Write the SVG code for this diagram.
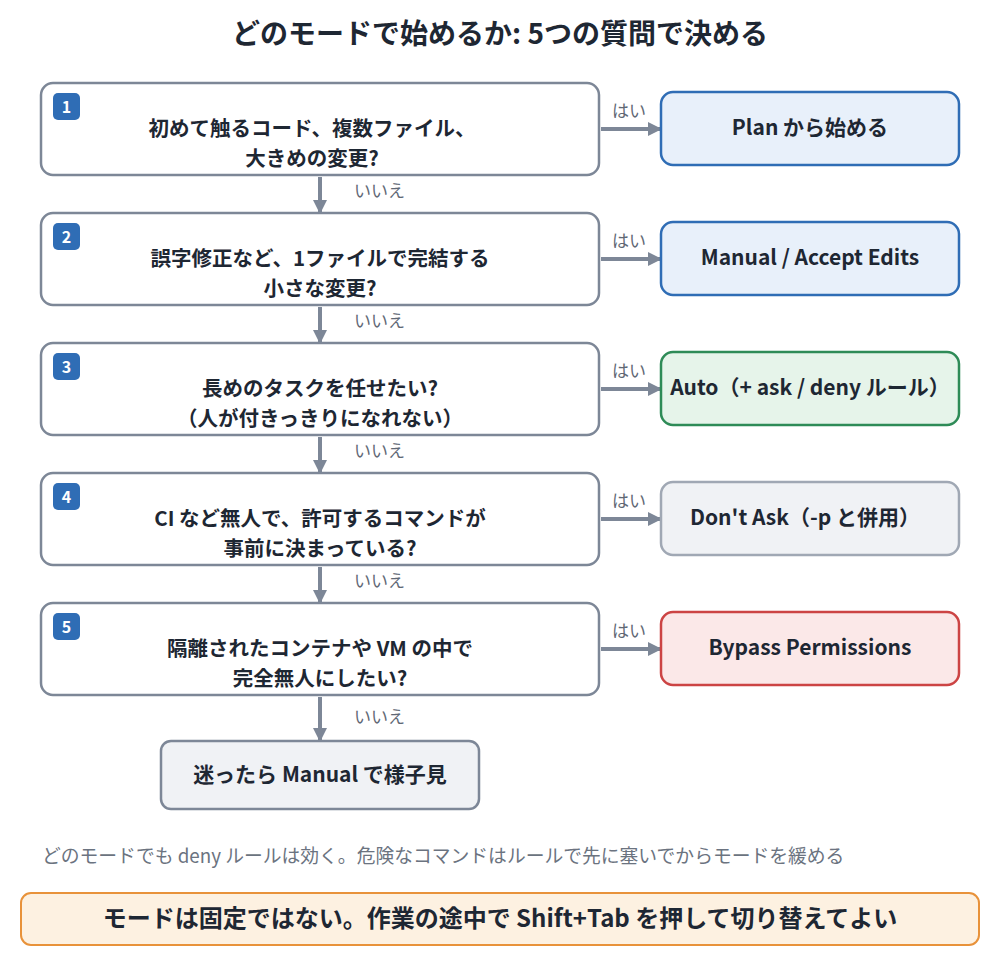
<svg xmlns="http://www.w3.org/2000/svg" width="1000" height="960" viewBox="0 0 1000 960">
<defs>
<marker id="ah" markerWidth="14" markerHeight="14" refX="13" refY="7" orient="auto" markerUnits="userSpaceOnUse" viewBox="0 0 14 14"><path d="M0,0 L14,7 L0,14 z" fill="#7d8797"/></marker>
<style>
text{font-family:"Noto Sans CJK JP","Noto Sans",sans-serif;}
.q{fill:#fff;stroke:#7d8797;stroke-width:2.5}
.qt{font-size:20.5px;font-weight:bold;fill:#1e2733;text-anchor:middle}
.b{fill:#2f6db5}
.bt{font-size:16px;font-weight:bold;fill:#fff;text-anchor:middle}
.rt{font-size:21px;font-weight:bold;fill:#1e2733;text-anchor:middle}
.lbl{font-size:17px;fill:#5f6875}
.c{stroke:#7d8797;stroke-width:4;fill:none;marker-end:url(#ah)}
</style>
</defs>
<rect width="1000" height="960" fill="#fff"/>
<text x="500" y="44" text-anchor="middle" font-size="28" font-weight="bold" fill="#1e2733">どのモードで始めるか: 5つの質問で決める</text>
<g id="connectors">
<path class="c" d="M601,129 H661"/><path class="c" d="M601,259 H661"/><path class="c" d="M601,389 H661"/><path class="c" d="M601,519 H661"/><path class="c" d="M601,649 H661"/>
<path class="c" d="M320,177 V213"/><path class="c" d="M320,307 V343"/><path class="c" d="M320,437 V473"/><path class="c" d="M320,567 V603"/><path class="c" d="M320,697 V741"/>
<text class="lbl" x="612" y="117">はい</text><text class="lbl" x="612" y="247">はい</text><text class="lbl" x="612" y="377">はい</text><text class="lbl" x="612" y="507">はい</text><text class="lbl" x="612" y="637">はい</text>
<text class="lbl" x="354" y="197">いいえ</text><text class="lbl" x="354" y="327">いいえ</text><text class="lbl" x="354" y="457">いいえ</text><text class="lbl" x="354" y="587">いいえ</text><text class="lbl" x="354" y="723">いいえ</text>
</g>
<g id="q1"><rect class="q" x="41" y="83" width="558" height="92" rx="12"/><rect class="b" x="53" y="93" width="27" height="27" rx="5"/><text class="bt" x="66.5" y="112.5">1</text><text class="qt" x="312" y="136">初めて触るコード、複数ファイル、</text><text class="qt" x="312" y="166">大きめの変更?</text></g>
<g id="q2"><rect class="q" x="41" y="213" width="558" height="92" rx="12"/><rect class="b" x="53" y="223" width="27" height="27" rx="5"/><text class="bt" x="66.5" y="242.5">2</text><text class="qt" x="320" y="266">誤字修正など、1ファイルで完結する</text><text class="qt" x="320" y="296">小さな変更?</text></g>
<g id="q3"><rect class="q" x="41" y="343" width="558" height="92" rx="12"/><rect class="b" x="53" y="353" width="27" height="27" rx="5"/><text class="bt" x="66.5" y="372.5">3</text><text class="qt" x="320" y="396">長めのタスクを任せたい?</text><text class="qt" x="320" y="426">（人が付きっきりになれない）</text></g>
<g id="q4"><rect class="q" x="41" y="473" width="558" height="92" rx="12"/><rect class="b" x="53" y="483" width="27" height="27" rx="5"/><text class="bt" x="66.5" y="502.5">4</text><text class="qt" x="320" y="526">CI など無人で、許可するコマンドが</text><text class="qt" x="320" y="556">事前に決まっている?</text></g>
<g id="q5"><rect class="q" x="41" y="603" width="558" height="92" rx="12"/><rect class="b" x="53" y="613" width="27" height="27" rx="5"/><text class="bt" x="66.5" y="632.5">5</text><text class="qt" x="320" y="656">隔離されたコンテナや VM の中で</text><text class="qt" x="320" y="686">完全無人にしたい?</text></g>
<g id="r1"><rect x="661" y="92" width="298" height="73" rx="12" fill="#e8f0fa" stroke="#2f6db5" stroke-width="2.5"/><text class="rt" x="810" y="135">Plan から始める</text></g>
<g id="r2"><rect x="661" y="222" width="298" height="73" rx="12" fill="#e8f0fa" stroke="#2f6db5" stroke-width="2.5"/><text class="rt" x="810" y="265">Manual / Accept Edits</text></g>
<g id="r3"><rect x="661" y="352" width="298" height="73" rx="12" fill="#e6f4ea" stroke="#2e8b57" stroke-width="2.5"/><text class="rt" x="810" y="395">Auto（+ ask / deny ルール）</text></g>
<g id="r4"><rect x="661" y="482" width="298" height="73" rx="12" fill="#f0f2f5" stroke="#a0a8b4" stroke-width="2.5"/><text class="rt" x="805" y="525">Don't Ask（-p と併用）</text></g>
<g id="r5"><rect x="661" y="612" width="298" height="73" rx="12" fill="#fbe8e8" stroke="#cc4444" stroke-width="2.5"/><text class="rt" x="810" y="655">Bypass Permissions</text></g>
<g id="final"><rect x="161" y="741" width="318" height="68" rx="10" fill="#f0f2f5" stroke="#7d8797" stroke-width="2.5"/><text class="rt" x="320" y="782">迷ったら Manual で様子見</text></g>
<text x="42" y="863" font-size="18.8" fill="#6b7380">どのモードでも deny ルールは効く。危険なコマンドはルールで先に塞いでからモードを緩める</text>
<g id="footer"><rect x="21" y="893" width="958" height="52" rx="10" fill="#fdf1e1" stroke="#e8923a" stroke-width="2"/><text x="500" y="927" text-anchor="middle" font-size="24" font-weight="bold" fill="#1e2733">モードは固定ではない。作業の途中で Shift+Tab を押して切り替えてよい</text></g>
</svg>
